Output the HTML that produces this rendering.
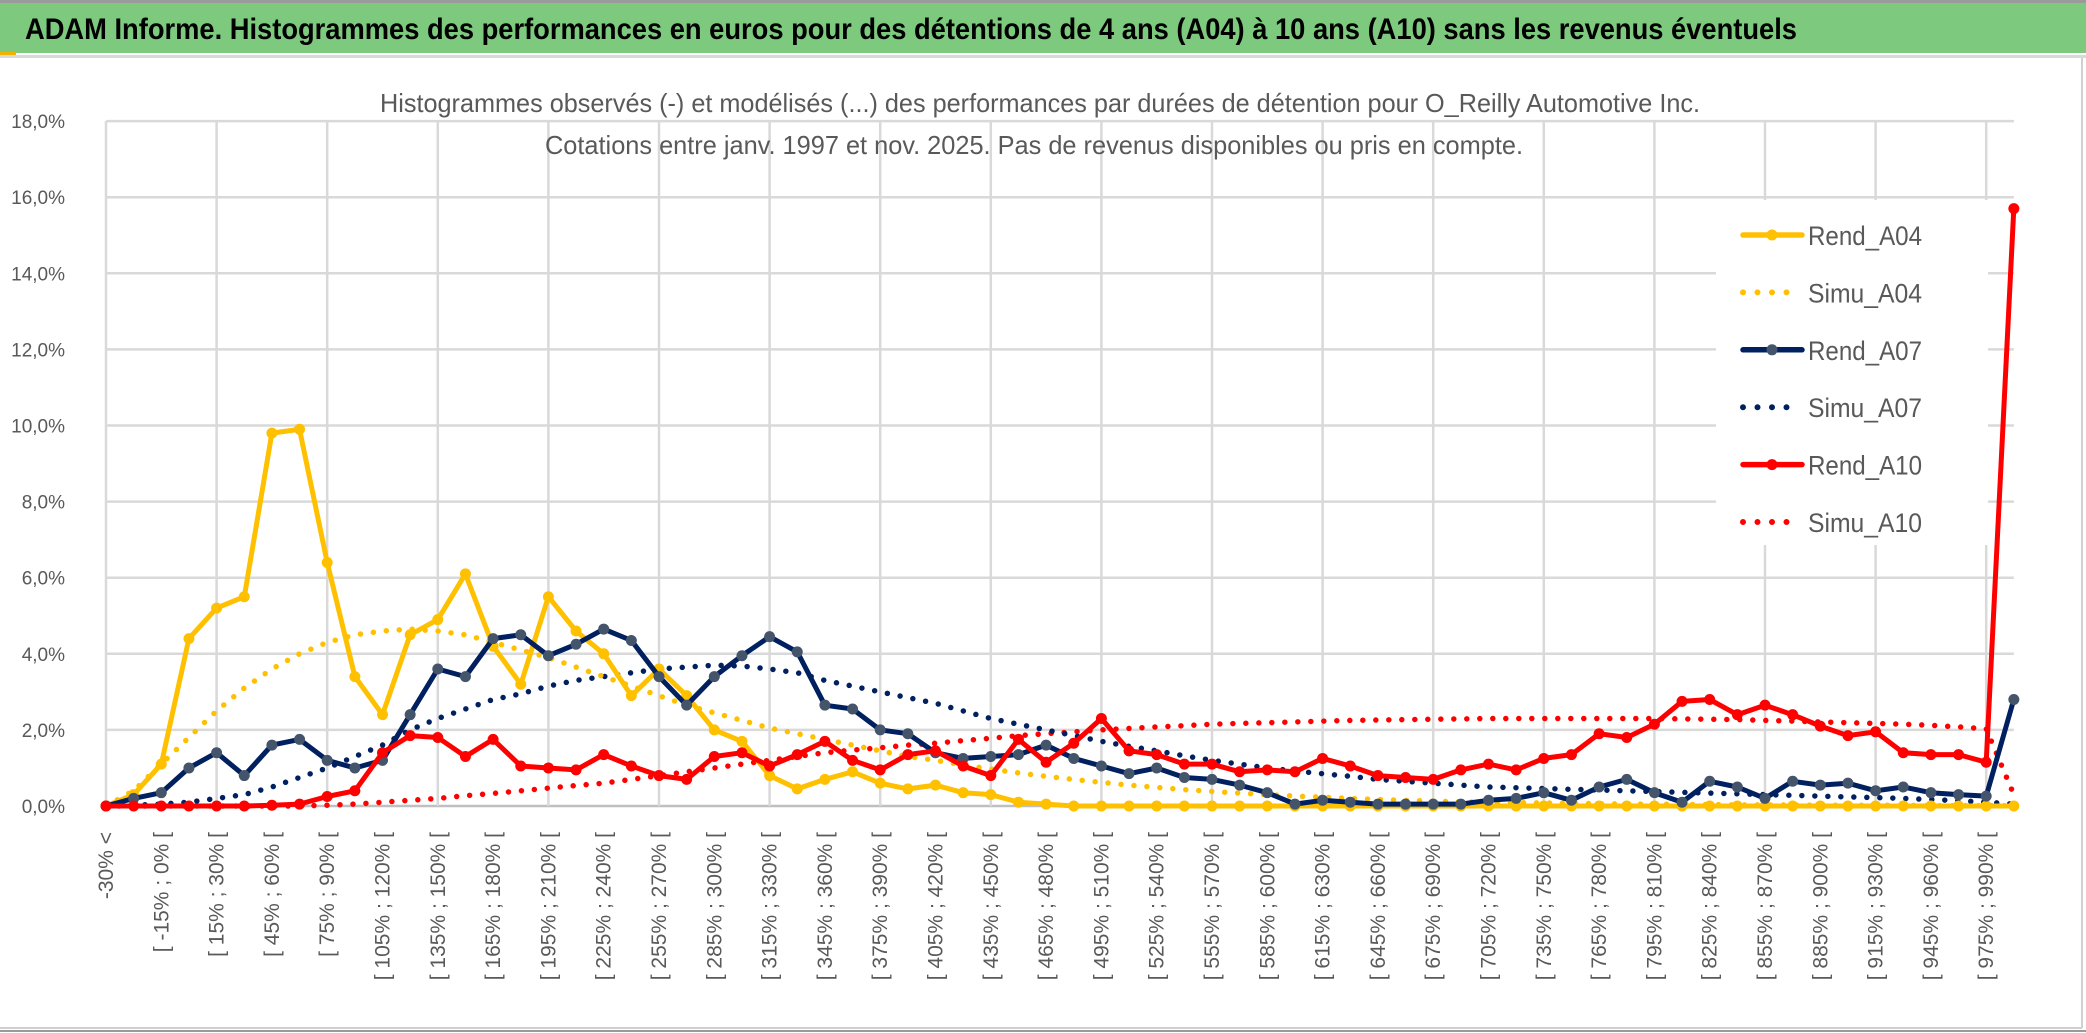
<!DOCTYPE html>
<html><head><meta charset="utf-8"><title>Histogrammes O_Reilly Automotive</title>
<style>
html,body{margin:0;padding:0;background:#fff;}
svg{display:block;font-family:"Liberation Sans",sans-serif;}
</style></head>
<body>
<svg id="chart" width="2086" height="1033" viewBox="0 0 2086 1033" xmlns="http://www.w3.org/2000/svg">
  <rect x="0" y="0" width="2086" height="1033" fill="#fff"/>
  <rect x="0" y="3" width="2086" height="50" fill="#7dc97e"/>
  <rect x="0" y="0" width="2086" height="3" fill="#9a9a9a"/>
  <rect x="0" y="52" width="16" height="3" fill="#f0b400"/>
  <rect x="0" y="55" width="2086" height="3" fill="#d9d9d9"/>
  <text x="25" y="39" font-size="30" font-weight="bold" fill="#000" textLength="1772" lengthAdjust="spacingAndGlyphs">ADAM Informe. Histogrammes des performances en euros pour des détentions de 4 ans (A04) à 10 ans (A10) sans les revenus éventuels</text>
  <line x1="2082" y1="58" x2="2082" y2="1028" stroke="#d0d0d0" stroke-width="2"/>
  <line x1="0" y1="1028" x2="2082" y2="1028" stroke="#d0d0d0" stroke-width="2"/>
  <line x1="0" y1="1031" x2="2086" y2="1031" stroke="#9a9a9a" stroke-width="2"/>
  <g id="grid"></g>
  <g id="yaxis"></g>
  <g id="xaxis"></g>
  <g id="series"></g>
  <text x="1040" y="112" font-size="26" fill="#595959" text-anchor="middle" textLength="1320" lengthAdjust="spacingAndGlyphs">Histogrammes observés (-) et modélisés (...) des performances par durées de détention pour O_Reilly Automotive Inc.</text>
  <text x="1034" y="154" font-size="26" fill="#595959" text-anchor="middle" textLength="978" lengthAdjust="spacingAndGlyphs">Cotations entre janv. 1997 et nov. 2025. Pas de revenus disponibles ou pris en compte.</text>
  <g id="legend"></g>
</svg>
<script>
const categories = ["-30% <"];
for (let k = 1; k <= 68; k++) { const a = -30 + 15 * (k - 1); categories.push("[ " + a + "% ; " + (a + 15) + "% ["); }
categories.push("990% <");
const yTicks = [0, 2, 4, 6, 8, 10, 12, 14, 16, 18];
const yTickLabels = ["0,0%","2,0%","4,0%","6,0%","8,0%","10,0%","12,0%","14,0%","16,0%","18,0%"];
const rendA04 = [0,0.3,1.1,4.4,5.2,5.5,9.8,9.9,6.4,3.4,2.4,4.5,4.9,6.1,4.2,3.2,5.5,4.6,4.0,2.9,3.6,2.9,2.0,1.7,0.8,0.45,0.7,0.9,0.6,0.45,0.55,0.35,0.3,0.1,0.05,0,0,0,0,0,0,0,0,0,0,0,0,0,0,0,0,0,0,0,0,0,0,0,0,0,0,0,0,0,0,0,0,0,0,0];
const simuA04 = [0,0.4,1.1,1.8,2.5,3.1,3.6,4.0,4.3,4.5,4.6,4.65,4.6,4.5,4.3,4.1,3.9,3.65,3.4,3.15,2.9,2.65,2.45,2.25,2.05,1.9,1.75,1.6,1.45,1.3,1.2,1.08,0.97,0.87,0.78,0.7,0.62,0.55,0.49,0.43,0.38,0.34,0.3,0.26,0.23,0.2,0.17,0.15,0.13,0.11,0.1,0.09,0.08,0.07,0.06,0.05,0.05,0.04,0.04,0.03,0.03,0.03,0.02,0.02,0.02,0.02,0.01,0.01,0.01,0.01];
const rendA07 = [0,0.2,0.35,1.0,1.4,0.8,1.6,1.75,1.2,1.0,1.2,2.4,3.6,3.4,4.4,4.5,3.95,4.25,4.65,4.35,3.4,2.65,3.4,3.95,4.45,4.05,2.65,2.55,2.0,1.9,1.4,1.25,1.3,1.35,1.6,1.25,1.05,0.85,1.0,0.75,0.7,0.55,0.35,0.05,0.15,0.1,0.05,0.05,0.05,0.05,0.15,0.2,0.35,0.15,0.5,0.7,0.35,0.1,0.65,0.5,0.2,0.65,0.55,0.6,0.4,0.5,0.35,0.3,0.26,2.8];
const simuA07 = [0,0.02,0.05,0.1,0.2,0.3,0.5,0.75,1.0,1.3,1.6,2.0,2.3,2.55,2.8,2.95,3.15,3.3,3.4,3.5,3.6,3.65,3.7,3.68,3.6,3.5,3.3,3.15,3.0,2.85,2.7,2.5,2.3,2.15,2.0,1.85,1.7,1.57,1.45,1.32,1.2,1.1,1.0,0.92,0.85,0.78,0.7,0.65,0.6,0.55,0.5,0.48,0.46,0.44,0.42,0.4,0.38,0.36,0.34,0.32,0.3,0.28,0.26,0.24,0.22,0.2,0.17,0.14,0.1,0.05];
const rendA10 = [0,0,0,0,0,0,0.02,0.05,0.25,0.4,1.4,1.85,1.8,1.3,1.75,1.05,1.0,0.95,1.35,1.05,0.8,0.7,1.3,1.4,1.05,1.35,1.7,1.2,0.95,1.35,1.45,1.05,0.8,1.75,1.15,1.65,2.3,1.45,1.35,1.1,1.1,0.9,0.95,0.9,1.25,1.05,0.8,0.75,0.7,0.95,1.1,0.95,1.25,1.35,1.9,1.8,2.15,2.75,2.8,2.4,2.65,2.4,2.1,1.85,1.95,1.4,1.35,1.35,1.15,15.7];
const simuA10 = [0,0,0,0,0,0,0,0,0.02,0.05,0.1,0.15,0.2,0.27,0.33,0.4,0.47,0.54,0.6,0.7,0.8,0.9,1.0,1.1,1.2,1.3,1.4,1.47,1.53,1.6,1.65,1.72,1.78,1.85,1.9,1.95,2.0,2.04,2.08,2.11,2.15,2.17,2.19,2.21,2.23,2.25,2.26,2.27,2.28,2.29,2.3,2.3,2.3,2.3,2.3,2.3,2.3,2.29,2.28,2.27,2.25,2.23,2.21,2.19,2.17,2.15,2.12,2.08,2.03,0.3];
const seriesNames = ["Rend_A04","Simu_A04","Rend_A07","Simu_A07","Rend_A10","Simu_A10"];

const NS = "http://www.w3.org/2000/svg";
const X0 = 106, DX = 27.65, Y0 = 806, PX_PER_PCT = 38.05;
function xPos(i){ return X0 + i * DX; }
function yPos(v){ return Y0 - v * PX_PER_PCT; }
function mk(tag, attrs, parent){ const e = document.createElementNS(NS, tag); for (const k in attrs) e.setAttribute(k, attrs[k]); parent.appendChild(e); return e; }

const grid = document.getElementById("grid");
const xRight = xPos(categories.length - 1);
yTicks.forEach(function(t){
  const l = mk("line", {x1: X0, x2: xRight, y1: yPos(t), y2: yPos(t), stroke: t === 0 ? "#bfbfbf" : "#d9d9d9", "stroke-width": 2.5}, grid);
  
  
});
for (let i = 0; i < categories.length; i += 4) {
  const l = mk("line", {x1: xPos(i), x2: xPos(i), y1: yPos(18), y2: yPos(0), stroke: "#d9d9d9", "stroke-width": 2.5}, grid);
  
  
}
const yaxis = document.getElementById("yaxis");
yTicks.forEach(function(t, k){
  const tx = mk("text", {x: 65, y: yPos(t) + 7, "text-anchor": "end", "font-size": 19, fill: "#595959"}, yaxis);
  tx.textContent = yTickLabels[k];
  
  
});
const xaxis = document.getElementById("xaxis");
for (let i = 0; i < categories.length; i += 2) {
  const x = xPos(i);
  const tx = mk("text", {x: 0, y: 0, "text-anchor": "end", "font-size": 21, fill: "#595959", transform: "translate(" + (x + 7) + ",832) rotate(-90)"}, xaxis);
  tx.textContent = categories[i];
  
  
}
const series = document.getElementById("series");
function drawSeries(vals, color, dotted, markerFill, name){
  const g = mk("g", {}, series);
  
  
  const pts = vals.map(function(v, i){ return xPos(i).toFixed(1) + "," + yPos(v).toFixed(1); }).join(" ");
  if (dotted) {
    mk("polyline", {points: pts, fill: "none", stroke: color, "stroke-width": 5.5, "stroke-dasharray": "0 13", "stroke-linecap": "round", "stroke-linejoin": "round"}, g);
  } else {
    mk("polyline", {points: pts, fill: "none", stroke: color, "stroke-width": 5, "stroke-linejoin": "round"}, g);
    vals.forEach(function(v, i){
      const c = mk("circle", {cx: xPos(i), cy: yPos(v), r: 5.5, fill: markerFill}, g);
      
      
    });
  }
}
drawSeries(simuA10, "#ff0000", true, null, "line-simu-a10");
drawSeries(simuA07, "#002060", true, null, "line-simu-a07");
drawSeries(simuA04, "#ffc000", true, null, "line-simu-a04");
drawSeries(rendA04, "#ffc000", false, "#ffc000", "line-rend-a04");
drawSeries(rendA07, "#002060", false, "#44546a", "line-rend-a07");
drawSeries(rendA10, "#ff0000", false, "#ff0000", "line-rend-a10");

const legend = document.getElementById("legend");
mk("rect", {x: 1716, y: 200, width: 272, height: 345, fill: "#fff"}, legend);
const legColors = ["#ffc000","#ffc000","#002060","#002060","#ff0000","#ff0000"];
const legMarker = ["#ffc000",null,"#44546a",null,"#ff0000",null];
seriesNames.forEach(function(n, k){
  const y = 235 + k * 57.4;
  const g = mk("g", {}, legend);
  
  
  if (k % 2 === 0) {
    mk("line", {x1: 1743, x2: 1802, y1: y, y2: y, stroke: legColors[k], "stroke-width": 5.5, "stroke-linecap": "round"}, g);
    mk("circle", {cx: 1772, cy: y, r: 5.5, fill: legMarker[k]}, g);
  } else {
    mk("line", {x1: 1743, x2: k === 5 ? 1801 : 1790, y1: y, y2: y, stroke: legColors[k], "stroke-width": 6, "stroke-dasharray": "0 14.5", "stroke-linecap": "round"}, g);
  }
  const t = mk("text", {x: 1808, y: y + 10, "font-size": 27, fill: "#595959", textLength: 114, lengthAdjust: "spacingAndGlyphs"}, g);
  t.textContent = n;
});
</script>
</body></html>
